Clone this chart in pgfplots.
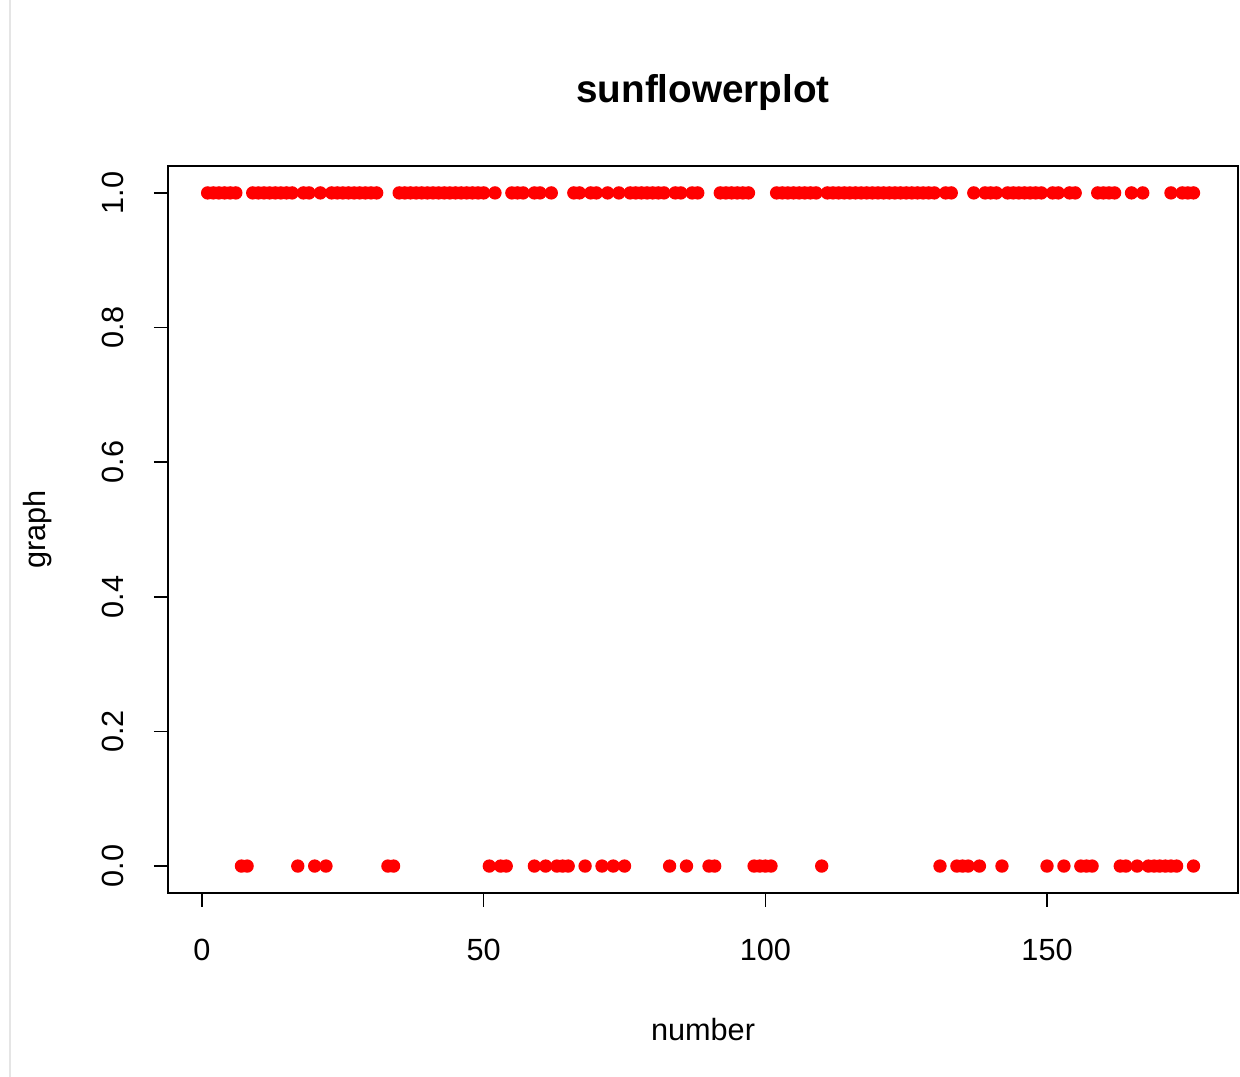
\documentclass[border=0pt]{standalone}
\usepackage{pgfplots}
\pgfplotsset{compat=1.18}
\usepackage{fontspec}
\setmainfont{Liberation Sans}
\begin{document}
\begin{tikzpicture}
\path[use as bounding box] (-50.4pt,-55.2pt) rectangle (321.6pt,267.9pt);
\draw[black!10, line width=0.6pt] (-47.4pt,-55.2pt) -- (-47.4pt,267.9pt);
\begin{axis}[
  scale only axis, width=321pt, height=218.1pt,
  xmin=-6.04, xmax=183.9, ymin=-0.04, ymax=1.04,
  axis line style={line width=0.45pt},
  tick style={line width=0.45pt, black},
  tick align=outside, tick pos=left,
  major tick length=4.2pt,
  xtick={0,50,100,150}, ytick={0,0.2,0.4,0.6,0.8,1},
  /pgf/number format/assume math mode=true,
  ticklabel style={font=\fontsize{9.2}{11}\selectfont},
  xticklabel shift=6pt,
  yticklabel shift=5.4pt,
  yticklabel style={rotate=90, anchor=south, /pgf/number format/fixed, /pgf/number format/fixed zerofill, /pgf/number format/precision=1},
  xticklabel style={/pgf/number format/fixed},
  title={\bfseries sunflowerplot},
  title style={font=\fontsize{11.6}{14}\selectfont, at={(axis description cs:0.5,1.0742)}, anchor=center},
  xlabel={number},
  xlabel style={font=\fontsize{9.2}{11}\selectfont, at={(axis description cs:0.5,-0.188)}, anchor=center},
  ylabel={graph},
  ylabel style={font=\fontsize{9.2}{11}\selectfont, at={(axis description cs:-0.1215,0.5)}, anchor=center, rotate=0},
  clip=false,
]
\addplot[only marks, mark=*, mark size=1.8pt, draw=red, fill=red, mark options={draw=red, fill=red}] coordinates {
(1,1) (2,1) (3,1) (4,1) (5,1) (6,1) (9,1) (10,1) (11,1) (12,1) (13,1) (14,1) (15,1) (16,1)
(18,1) (19,1) (21,1) (23,1) (24,1) (25,1) (26,1) (27,1) (28,1) (29,1) (30,1) (31,1)
(35,1) (36,1) (37,1) (38,1) (39,1) (40,1) (41,1) (42,1) (43,1) (44,1) (45,1) (46,1) (47,1) (48,1) (49,1) (50,1)
(52,1) (55,1) (56,1) (57,1) (59,1) (60,1) (62,1) (66,1) (67,1) (69,1) (70,1) (72,1) (74,1)
(76,1) (77,1) (78,1) (79,1) (80,1) (81,1) (82,1) (84,1) (85,1) (87,1) (88,1)
(92,1) (93,1) (94,1) (95,1) (96,1) (97,1)
(102,1) (103,1) (104,1) (105,1) (106,1) (107,1) (108,1) (109,1)
(111,1) (112,1) (113,1) (114,1) (115,1) (116,1) (117,1) (118,1) (119,1) (120,1)
(121,1) (122,1) (123,1) (124,1) (125,1) (126,1) (127,1) (128,1) (129,1) (130,1)
(132,1) (133,1) (137,1) (139,1) (140,1) (141,1) (143,1) (144,1) (145,1) (146,1) (147,1) (148,1) (149,1)
(151,1) (152,1) (154,1) (155,1) (159,1) (160,1) (161,1) (162,1) (165,1) (167,1)
(172,1) (174,1) (175,1) (176,1)
};
\addplot[only marks, mark=*, mark size=1.8pt, draw=red, fill=red, mark options={draw=red, fill=red}] coordinates {
(7,0) (8,0) (17,0) (20,0) (22,0) (33,0) (34,0) (51,0) (53,0) (54,0)
(59,0) (61,0) (63,0) (64,0) (65,0) (68,0) (71,0) (73,0) (75,0) (83,0) (86,0) (90,0) (91,0)
(98,0) (99,0) (100,0) (101,0) (110,0) (131,0) (134,0) (135,0) (136,0) (138,0) (142,0)
(150,0) (153,0) (156,0) (157,0) (158,0) (163,0) (164,0) (166,0) (168,0) (169,0) (170,0)
(171,0) (172,0) (173,0) (176,0)
};
\end{axis}
\end{tikzpicture}
\end{document}
